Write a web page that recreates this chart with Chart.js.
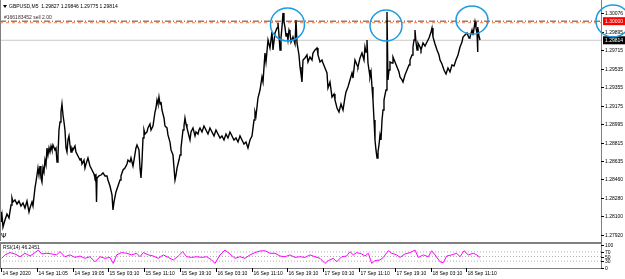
<!DOCTYPE html>
<html>
<head>
<meta charset="utf-8">
<script src="https://cdn.jsdelivr.net/npm/chart.js@4.4.0/dist/chart.umd.min.js"></script>
<style>
  html, body { margin: 0; padding: 0; background: #fff; }
  #wrap { position: relative; width: 625px; height: 279px; overflow: hidden; }
  #mainChart { position: absolute; left: 0; top: 0; }
  #rsiChart { position: absolute; left: 0; top: 242px; }
</style>
</head>
<body>
<div id="wrap">
  <canvas id="mainChart" width="625" height="242"></canvas>
  <canvas id="rsiChart" width="625" height="37"></canvas>
</div>
<script>
// GBPUSD M5 - time in hours since 14 Sep 03:05
const priceTimes = [
  -0.22, 0, 0.22, 0.45, 0.89, 1.34, 1.79, 2.24, 2.46, 2.68, 3.13, 3.58, 4.02, 4.47, 4.92, 5.36, 5.81, 6.26, 6.48, 6.93,
  7.15, 7.60, 7.82, 8.27, 8.49, 8.72, 8.94, 9.16, 9.39, 9.61, 9.83, 10.06, 10.28, 10.50, 10.73, 10.95, 11.18, 11.40, 11.62, 12.07,
  12.29, 12.52, 12.74, 12.96, 13.19, 13.41, 13.63, 13.86, 14.08, 14.30, 14.53, 14.75, 14.97, 15.20, 15.42, 15.65, 15.87, 16.09, 16.54, 16.76,
  17.21, 17.66, 17.88, 18.10, 18.55, 18.77, 19.00, 19.44, 19.89, 20.34, 20.79, 21.01, 21.23, 21.35, 21.46, 21.90, 22.35, 22.80, 23.24, 23.69,
  23.91, 24.36, 24.81, 25.03, 25.26, 25.70, 26.15, 26.60, 26.82, 27.27, 27.71, 28.16, 28.38, 28.83, 29.06, 29.50, 29.73, 30.17, 30.40, 30.84,
  31.07, 31.29, 31.51, 31.74, 31.96, 32.18, 32.63, 32.85, 33.30, 33.53, 33.97, 34.42, 34.64, 34.87, 35.09, 35.31, 35.54, 35.76, 35.98, 36.43,
  36.65, 37.10, 37.32, 37.77, 38.00, 38.44, 38.89, 39.11, 39.34, 39.78, 40.01, 40.23, 40.68, 40.90, 41.12, 41.35, 41.57, 42.02, 42.24, 42.47,
  42.91, 43.36, 43.58, 44.03, 44.25, 44.48, 44.92, 45.37, 45.82, 46.26, 46.71, 47.16, 47.61, 48.05, 48.50, 48.95, 49.39, 49.84, 50.29, 50.73,
  51.18, 51.63, 52.07, 52.52, 52.97, 53.42, 53.86, 54.31, 54.76, 55.20, 55.65, 56.10, 56.55, 56.77, 56.99, 57.44, 57.89, 58.33, 58.56, 59.00,
  59.23, 59.68, 60.12, 60.57, 60.79, 61.24, 61.69, 61.91, 62.13, 62.36, 62.58, 62.80, 63.03, 63.25, 63.47, 63.70, 63.92, 64.14, 64.37, 64.59,
  64.82, 65.26, 65.71, 65.93, 66.16, 66.60, 66.83, 67.05, 67.27, 67.50, 67.94, 68.39, 68.61, 69.06, 69.51, 69.73, 70.18, 70.63, 70.85, 71.30,
  71.74, 71.97, 72.41, 72.86, 73.08, 73.53, 73.98, 74.43, 74.65, 75.10, 75.54, 75.99, 76.44, 76.89, 77.11, 77.55, 78.00, 78.45, 78.67, 79.12,
  79.57, 79.79, 80.24, 80.68, 81.13, 81.35, 81.58, 81.80, 82.02, 82.25, 82.47, 82.70, 82.92, 83.14, 83.37, 83.59, 83.81, 84.04, 84.26, 84.48,
  84.71, 84.93, 85.16, 85.38, 85.60, 85.82, 86.05, 86.27, 86.49, 86.72, 86.94, 87.39, 87.61, 88.06, 88.51, 88.95, 89.18, 89.62, 89.85, 90.29,
  90.74, 91.19, 91.41, 91.86, 92.08, 92.31, 92.53, 92.75, 92.98, 93.20, 93.65, 93.87, 94.32, 94.76, 95.21, 95.66, 96.11, 96.33, 96.55, 97.00,
  97.45, 97.89, 98.12, 98.56, 99.01, 99.46, 99.90, 100.35, 100.80, 101.25, 101.69, 102.14, 102.59, 103.03, 103.26, 103.70, 104.15, 104.60, 104.82, 105.27,
  105.49, 105.94, 106.16, 106.39, 106.50, 106.61, 106.83, 107.06
];
const prices = [
  1.28143, 1.28046, 1.28114, 1.27997, 1.28065, 1.28124, 1.28085, 1.28211, 1.28279, 1.28241, 1.28260, 1.28221, 1.28250, 1.28202, 1.28231, 1.28182, 1.28250, 1.28143, 1.28182, 1.28241,
  1.28202, 1.28377, 1.28435, 1.28571, 1.28503, 1.28591, 1.28474, 1.28435, 1.28571, 1.28532, 1.28649, 1.28601, 1.28766, 1.28698, 1.28766, 1.28727, 1.28785, 1.28747, 1.28795, 1.28747,
  1.28766, 1.28630, 1.28698, 1.28941, 1.29019, 1.29116, 1.29194, 1.29087, 1.29019, 1.28941, 1.28766, 1.28727, 1.28844, 1.28883, 1.28795, 1.28727, 1.28766, 1.28747, 1.28785, 1.28727,
  1.28688, 1.28649, 1.28669, 1.28610, 1.28649, 1.28571, 1.28610, 1.28669, 1.28591, 1.28552, 1.28513, 1.28474, 1.28494, 1.28241, 1.28474, 1.28494, 1.28503, 1.28523, 1.28494, 1.28494,
  1.28455, 1.28396, 1.28309, 1.28163, 1.28241, 1.28338, 1.28396, 1.28455, 1.28494, 1.28552, 1.28571, 1.28610, 1.28649, 1.28630, 1.28669, 1.28591, 1.28649, 1.28766, 1.28795, 1.28747,
  1.28571, 1.28474, 1.28630, 1.28863, 1.28941, 1.28902, 1.28922, 1.28961, 1.28999, 1.28941, 1.28980, 1.29116, 1.29155, 1.29233, 1.29194, 1.29262, 1.29194, 1.29214, 1.29136, 1.29058,
  1.28980, 1.28961, 1.28893, 1.28824, 1.28747, 1.28698, 1.28455, 1.28503, 1.28571, 1.28649, 1.28698, 1.28766, 1.28941, 1.28980, 1.29058, 1.28999, 1.28961, 1.28883, 1.28844, 1.28922,
  1.28961, 1.28883, 1.28922, 1.28902, 1.28941, 1.28961, 1.28922, 1.28980, 1.28941, 1.28902, 1.28961, 1.28922, 1.28883, 1.28941, 1.28902, 1.28863, 1.28883, 1.28844, 1.28902, 1.28863,
  1.28922, 1.28883, 1.28844, 1.28863, 1.28824, 1.28883, 1.28844, 1.28805, 1.28824, 1.28766, 1.28844, 1.28883, 1.29038, 1.29116, 1.29077, 1.29252, 1.29330, 1.29457, 1.29408, 1.29690,
  1.29603, 1.29817, 1.29739, 1.29895, 1.29720, 1.29885, 1.29934, 1.29982, 1.29865, 1.29720, 1.29836, 1.29943, 1.30080, 1.29992, 1.29943, 1.29856, 1.29885, 1.29817, 1.29914, 1.29885,
  1.29797, 1.29846, 1.29778, 1.30011, 1.29788, 1.29671, 1.29554, 1.29486, 1.29408, 1.29622, 1.29642, 1.29671, 1.29603, 1.29651, 1.29622, 1.29690, 1.29720, 1.29739, 1.29671, 1.29603,
  1.29622, 1.29593, 1.29544, 1.29496, 1.29350, 1.29408, 1.29262, 1.29291, 1.29233, 1.29155, 1.29116, 1.29194, 1.29136, 1.29262, 1.29311, 1.29359, 1.29428, 1.29496, 1.29447, 1.29622,
  1.29574, 1.29554, 1.29642, 1.29690, 1.29622, 1.29749, 1.29700, 1.29817, 1.29593, 1.29525, 1.29457, 1.29506, 1.29359, 1.29233, 1.29038, 1.28844, 1.28747, 1.28669, 1.28727, 1.28795,
  1.28893, 1.28844, 1.29038, 1.29136, 1.29233, 1.29282, 1.29330, 1.30089, 1.29428, 1.29525, 1.29603, 1.29593, 1.29651, 1.29603, 1.29554, 1.29506, 1.29457, 1.29428, 1.29408, 1.29476,
  1.29525, 1.29574, 1.29622, 1.29671, 1.29749, 1.29817, 1.29914, 1.29797, 1.29720, 1.29788, 1.29749, 1.29720, 1.29788, 1.29758, 1.29797, 1.29836, 1.29895, 1.29934, 1.29846, 1.29778,
  1.29720, 1.29671, 1.29622, 1.29583, 1.29525, 1.29486, 1.29544, 1.29506, 1.29574, 1.29564, 1.29622, 1.29671, 1.29749, 1.29797, 1.29846, 1.29865, 1.29885, 1.29836, 1.29846, 1.29914,
  1.29865, 1.29992, 1.29934, 1.29885, 1.29700, 1.29943, 1.29856, 1.29817
];

// RSI(14)
const rsiTimes = [
  0.16, 0.89, 2.01, 3.13, 4.25, 5.36, 6.48, 7.60, 8.34, 9.10, 10.21, 11.33, 12.45, 13.19, 14.30, 15.42, 16.54, 17.66, 18.77, 19.89,
  21.01, 22.13, 23.24, 24.36, 25.10, 25.86, 26.98, 28.09, 29.21, 30.33, 31.07, 31.80, 32.92, 34.04, 35.16, 36.27, 37.39, 38.51, 39.63, 40.61,
  41.50, 42.62, 43.74, 44.86, 45.97, 47.09, 47.83, 48.95, 50.06, 51.18, 52.30, 53.42, 54.53, 55.65, 56.77, 57.89, 59.00, 60.12, 61.24, 62.36,
  63.47, 64.59, 65.71, 66.83, 67.94, 69.06, 70.18, 71.30, 72.41, 73.15, 74.27, 75.03, 76.15, 77.26, 78.00, 78.74, 79.50, 80.62, 81.35, 82.09,
  82.85, 83.59, 84.71, 85.44, 86.56, 87.32, 88.44, 89.18, 90.29, 91.41, 92.53, 93.27, 94.38, 95.50, 96.26, 97.00, 98.12, 98.85, 99.61, 100.73,
  101.85, 102.59, 103.48, 104.44, 105.56, 106.32, 107.06
];
const rsiValues = [
  42, 57, 67, 61, 49, 64, 52, 67, 78, 61, 64, 61, 57, 71, 49, 57, 46, 52, 42, 49,
  27, 49, 42, 46, 20, 57, 67, 64, 57, 64, 49, 67, 57, 52, 42, 57, 46, 35, 52, 71,
  49, 46, 49, 46, 49, 35, 20, 57, 78, 61, 42, 49, 42, 57, 67, 74, 75, 64, 64, 52,
  49, 57, 46, 49, 46, 57, 49, 42, 20, 32, 42, 27, 49, 52, 71, 57, 67, 61, 52, 64,
  20, 32, 35, 46, 75, 64, 57, 46, 61, 67, 78, 46, 57, 49, 75, 57, 27, 23, 52, 57,
  64, 49, 75, 57, 64, 57, 46
];

const timeLabels = ["14 Sep 2020", "14 Sep 11:05", "14 Sep 19:05", "15 Sep 03:10", "15 Sep 11:10", "15 Sep 19:10",
  "16 Sep 03:10", "16 Sep 11:10", "16 Sep 19:10", "17 Sep 03:10", "17 Sep 11:10", "17 Sep 19:10", "18 Sep 03:10", "18 Sep 11:10"];
const timeLabelHours = [0, 8, 16, 24, 32, 40, 48, 56, 64, 72, 80, 88, 96, 104];
const priceTicks = [1.30076, 1.29895, 1.29715, 1.29535, 1.29355, 1.29175, 1.28995, 1.28815, 1.28635, 1.28460, 1.28280, 1.28100, 1.27920];
const rsiTicks = [100, 70, 50, 30, 0];
const rsiLevels = [70, 50, 30];

const orderPrice = 1.30000;
const orderSlPrice = 1.29985;
const bidPrice = 1.29814;
const headerText = "GBPUSD,M5  1.29827 1.29846 1.29775 1.29814";
const orderText = "#166183452 sell 2.00";
const rsiText = "RSI(14) 46.2451";
// hand-drawn circles (time, price)
const circleTimes = [64.03, 86.05, 105.27, 136.78];
const circlePrices = [1.29968, 1.29958, 1.30011, 1.30002];

const X_MIN = -0.22, X_MAX = 134.1;
const FONT = "5px 'Liberation Sans', Arial, sans-serif";
const AXIS_GRAY = "#808080";

function hLine(price, color, dash) {
  return {
    data: [{ x: X_MIN, y: price }, { x: X_MAX, y: price }],
    borderColor: color, borderWidth: 1, borderDash: dash, pointRadius: 0
  };
}

const mainOverlay = {
  id: "mainOverlay",
  afterDraw(chart) {
    const ctx = chart.ctx;
    const a = chart.chartArea;
    const ys = chart.scales.y, xs = chart.scales.x;
    ctx.save();
    // frame
    ctx.strokeStyle = AXIS_GRAY;
    ctx.lineWidth = 1;
    ctx.beginPath();
    ctx.moveTo(0.5, 0); ctx.lineTo(0.5, a.bottom);
    ctx.moveTo(a.right + 0.5, 0); ctx.lineTo(a.right + 0.5, chart.height);
    ctx.stroke();

    // price axis labels
    ctx.font = FONT;
    ctx.textBaseline = "middle";
    ctx.textAlign = "left";
    priceTicks.forEach(v => {
      const py = Math.round(ys.getPixelForValue(v)) + 0.5;
      ctx.strokeStyle = "#000";
      ctx.beginPath(); ctx.moveTo(a.right, py); ctx.lineTo(a.right + 3, py); ctx.stroke();
      ctx.fillStyle = "#000";
      ctx.fillText(v.toFixed(5), a.right + 4, py);
    });
    // level boxes
    [[orderPrice, "#ff0000"], [bidPrice, "#000000"]].forEach(([v, c]) => {
      const py = ys.getPixelForValue(v);
      ctx.fillStyle = c;
      ctx.fillRect(a.right + 2, py - 4, chart.width - a.right - 2, 8);
      ctx.fillStyle = "#fff";
      ctx.fillText(v.toFixed(5), a.right + 4, py);
    });

    // texts
    ctx.fillStyle = "#000";
    ctx.beginPath();
    ctx.moveTo(3, 5); ctx.lineTo(7, 5); ctx.lineTo(5, 8); ctx.closePath(); ctx.fill();
    ctx.fillText(headerText, 9, 7);
    ctx.fillStyle = "#3a2a2a";
    ctx.fillText(orderText, 4, 18);
    ctx.fillStyle = "#000";
    ctx.font = "7px 'DejaVu Sans', sans-serif";
    ctx.fillText("\u03A8", 1, 236);

    // circles
    const radii = [[17, 16.5], [16, 15.5], [16, 14], [17, 16]];
    ctx.strokeStyle = "#1e9be0";
    ctx.lineWidth = 1.5;
    circleTimes.forEach((t, i) => {
      ctx.beginPath();
      ctx.ellipse(xs.getPixelForValue(t), ys.getPixelForValue(circlePrices[i]), radii[i][0], radii[i][1], 0, 0, Math.PI * 2);
      ctx.stroke();
    });
    ctx.restore();
  }
};

new Chart(document.getElementById("mainChart"), {
  type: "line",
  data: {
    datasets: [
      {
        data: priceTimes.map((t, i) => ({ x: t, y: prices[i] })),
        borderColor: "#000", borderWidth: 1.4, pointRadius: 0, tension: 0
      },
      hLine(bidPrice, "#c8c8c8", []),
      hLine(orderPrice, "#6b3a2a", [6, 2, 1, 2]),
      hLine(orderSlPrice, "#f08050", [3, 3])
    ]
  },
  options: {
    responsive: false,
    animation: false,
    events: [],
    layout: { padding: { left: 0, right: 24, top: 0, bottom: 1 } },
    plugins: { legend: { display: false }, tooltip: { enabled: false } },
    scales: {
      x: { type: "linear", display: false, min: X_MIN, max: X_MAX },
      y: { type: "linear", display: false, min: 1.27861, max: 1.30206 }
    }
  },
  plugins: [mainOverlay]
});

const rsiOverlay = {
  id: "rsiOverlay",
  afterDraw(chart) {
    const ctx = chart.ctx;
    const a = chart.chartArea;
    const ys = chart.scales.y, xs = chart.scales.x;
    ctx.save();
    ctx.fillStyle = AXIS_GRAY;
    ctx.fillRect(0, 0, a.right, 2);
    ctx.strokeStyle = AXIS_GRAY;
    ctx.lineWidth = 1;
    ctx.beginPath();
    ctx.moveTo(0.5, 0); ctx.lineTo(0.5, a.bottom);
    ctx.moveTo(a.right + 0.5, 0); ctx.lineTo(a.right + 0.5, a.bottom + 1);
    ctx.moveTo(0, a.bottom + 0.5); ctx.lineTo(a.right + 1, a.bottom + 0.5);
    ctx.stroke();

    ctx.font = FONT;
    ctx.fillStyle = "#000";
    ctx.textBaseline = "middle";
    ctx.textAlign = "left";
    rsiTicks.forEach(v => {
      const py = Math.round(ys.getPixelForValue(v)) + 0.5;
      ctx.strokeStyle = "#000";
      ctx.beginPath(); ctx.moveTo(a.right, py); ctx.lineTo(a.right + 3, py); ctx.stroke();
      ctx.fillText(String(v), a.right + 4, py);
    });
    ctx.fillText(rsiText, 3, 6);

    // time axis
    ctx.textBaseline = "top";
    timeLabelHours.forEach((h, i) => {
      const px = Math.round(xs.getPixelForValue(h)) + 0.5;
      ctx.strokeStyle = "#000";
      ctx.beginPath(); ctx.moveTo(px, a.bottom); ctx.lineTo(px, a.bottom + 4); ctx.stroke();
      ctx.fillText(timeLabels[i], px + 1, a.bottom + 3);
    });
    ctx.restore();
  }
};

new Chart(document.getElementById("rsiChart"), {
  type: "line",
  data: {
    datasets: [
      {
        data: rsiTimes.map((t, i) => ({ x: t, y: rsiValues[i] })),
        borderColor: "#ff00ff", borderWidth: 1, pointRadius: 0, tension: 0
      },
      ...rsiLevels.map(v => hLine(v, "#b0b0b0", [1, 2]))
    ]
  },
  options: {
    responsive: false,
    animation: false,
    events: [],
    layout: { padding: { left: 0, right: 24, top: 3, bottom: 11 } },
    plugins: { legend: { display: false }, tooltip: { enabled: false } },
    scales: {
      x: { type: "linear", display: false, min: X_MIN, max: X_MAX },
      y: { type: "linear", display: false, min: 0, max: 100 }
    }
  },
  plugins: [rsiOverlay]
});
</script>
</body>
</html>
